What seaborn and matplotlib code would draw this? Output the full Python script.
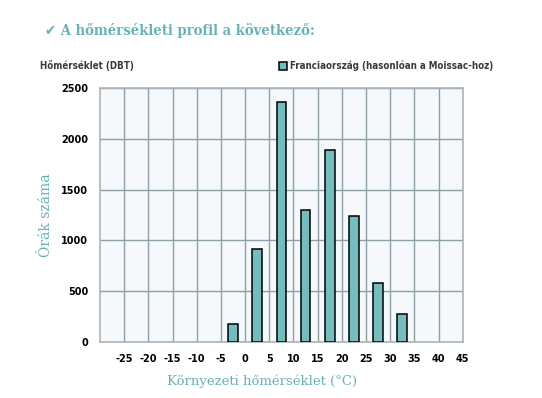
import matplotlib
matplotlib.use("Agg")
import matplotlib.pyplot as plt
import seaborn as sns
import pandas as pd

temps = [-2.5, 2.5, 7.5, 12.5, 17.5, 22.5, 27.5, 32.5]
hours = [172, 915, 2360, 1295, 1890, 1240, 575, 278]
x_ticks = [-25, -20, -15, -10, -5, 0, 5, 10, 15, 20, 25, 30, 35, 40, 45]
y_ticks = [0, 500, 1000, 1500, 2000, 2500]
series_label = "Franciaország (hasonlóan a Moissac-hoz)"

sns.set_theme(style="white")
plt.rcParams['font.family'] = ['DejaVu Sans']

teal = "#74BDBE"
title_col = "#67B3B6"
grid_col = "#8E9FA8"

fig = plt.figure(figsize=(5.42, 3.98), dpi=100)
ax = fig.add_axes([100/542, 1-341.7/398, (462.7-100)/542, (341.7-88.3)/398])

df = pd.DataFrame({"temp": temps, "hours": hours})
sns.barplot(data=df, x="temp", y="hours", native_scale=True, width=0.4,
            color=teal, saturation=1, edgecolor="black", linewidth=1.1, ax=ax, zorder=3)

ax.set_xlim(-30, 45)
ax.set_ylim(0, 2500)
ax.set_facecolor("#F5F9FB")
ax.set_xticks(x_ticks)
ax.set_xticklabels([str(t) for t in x_ticks])
ax.set_yticks(y_ticks)
ax.set_yticklabels([str(t) for t in y_ticks])
ax.grid(True, color=grid_col, linewidth=1.0, zorder=0)
ax.set_axisbelow(True)
for s in ax.spines.values():
    s.set_color("#AEB4B8")
    s.set_linewidth(1.2)
ax.tick_params(axis="x", length=0, pad=9, labelsize=7, colors="black")
ax.tick_params(axis="y", length=5, width=0.8, color=grid_col, pad=3.5, labelsize=7, labelcolor="black")
for lab in ax.get_xticklabels() + ax.get_yticklabels():
    lab.set_fontweight("bold")

ax.set_xlabel("Környezeti hőmérséklet (°C)", family="DejaVu Serif", color=title_col,
              fontsize=9.5)
ax.xaxis.set_label_coords((262-100)/362.7, -0.13)
ax.set_ylabel("Órák száma", family="DejaVu Serif", color=title_col, fontsize=10)
ax.yaxis.set_label_coords((53-100)/362.7, 0.5)

fig.text(45/542, 1-31/398, "✔ A hőmérsékleti profil a következő:",
         family=["DejaVu Serif", "DejaVu Sans"], fontstretch="condensed", fontweight="bold",
         color=title_col, fontsize=10.6, va="center", ha="left")
fig.text(40/542, 1-66/398, "Hőmérséklet (DBT)", fontstretch="condensed", fontweight="bold",
         color="#3A3A3A", fontsize=7, va="center", ha="left")

handle = ax.patches[0]
leg = ax.legend([handle], [series_label], loc="center right",
                bbox_to_anchor=(493/542, 1-66/398), bbox_transform=fig.transFigure,
                frameon=False, handlelength=0.8, handleheight=0.8,
                handletextpad=0.3, borderaxespad=0, borderpad=0,
                prop={"stretch": "condensed", "weight": "bold", "size": 7})
for t in leg.get_texts():
    t.set_color("#3A3A3A")

fig.savefig("out.png", dpi=100)
